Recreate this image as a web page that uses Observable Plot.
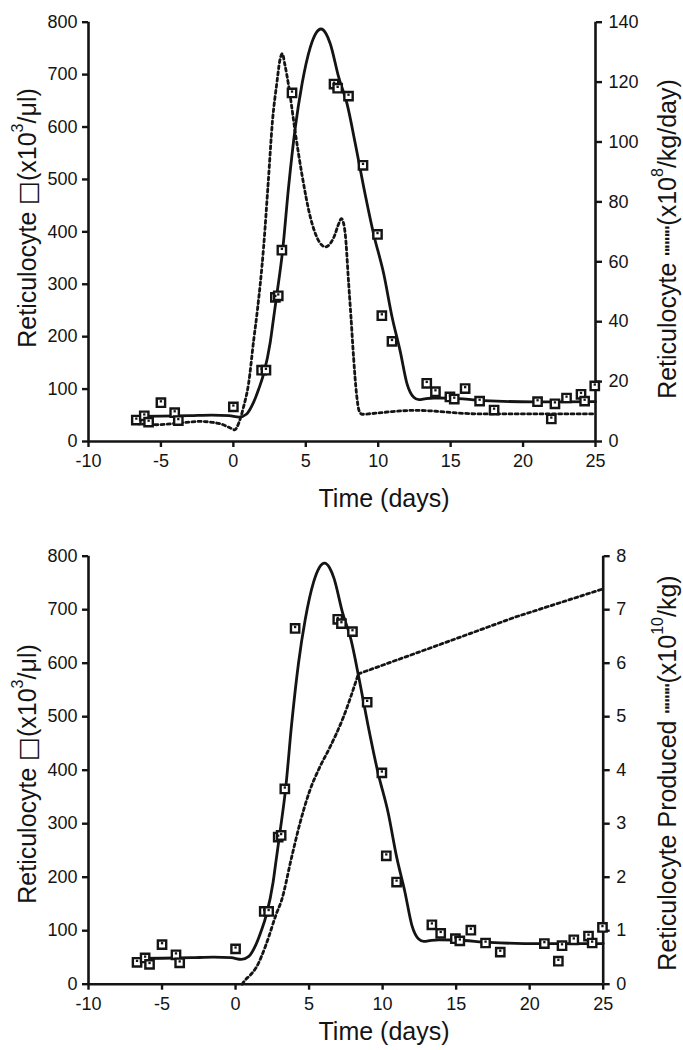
<!DOCTYPE html>
<html><head><meta charset="utf-8">
<script src="https://cdn.jsdelivr.net/npm/d3@7"></script>
<script src="https://cdn.jsdelivr.net/npm/@observablehq/plot@0.6"></script>
<style>
body{margin:0;background:#fff;font-family:"Liberation Sans",Arial,sans-serif;}
#chart{width:683px;}
svg{display:block;}
</style></head><body><div id="chart"></div>
<script>
// ---- data ----
const xTicks = [-10, -5, 0, 5, 10, 15, 20, 25];
const leftTicks = [0, 100, 200, 300, 400, 500, 600, 700, 800];
const rightTicksTop = [0, 20, 40, 60, 80, 100, 120, 140];
const rightTicksBottom = [0, 1, 2, 3, 4, 5, 6, 7, 8];

// observed reticulocyte counts (x10^3/µl)
const obsDay = [-6.7, -6.15, -5.85, -5.0, -4.05, -3.8, 0.0, 1.95, 2.25, 2.9, 3.1, 3.35, 4.05, 6.95, 7.2, 7.95, 8.95, 9.95, 10.25, 10.95, 13.35, 13.95, 14.95, 15.25, 16.0, 17.0, 18.0, 21.0, 21.95, 22.2, 23.0, 24.0, 24.25, 24.95];
const obsValue = [41, 49, 37, 74, 55, 40, 66, 136, 136, 275, 278, 365, 665, 682, 674, 659, 527, 395, 240, 191, 111, 95, 85, 81, 101, 77, 60, 76, 43, 72, 83, 90, 77, 106];

// model fit (solid line)
const fitDay = [-6.7, -5.0, -3.0, -1.5, -0.3, 0.4, 0.9, 1.4, 1.75, 2.09, 2.55, 2.75, 3.01, 3.4, 3.81, 4.28, 4.74, 5.31, 5.7, 6.05, 6.4, 6.69, 7.27, 7.85, 8.42, 9.0, 9.68, 10.38, 10.96, 11.52, 11.99, 12.45, 12.8, 13.3, 13.83, 14.98, 17.28, 20.74, 25];
const fitValue = [48, 48.5, 49.5, 50.5, 49.5, 46.5, 52, 75, 100, 129, 190, 230, 282, 364, 485, 600, 682, 752, 779, 787, 778, 759, 695, 644, 568, 485, 396, 320, 237, 172, 110, 84.5, 80, 82, 83, 82.6, 78, 75.7, 76];

// production rate (x10^8/kg/day) — top dotted line
const rateDay = [-6.7, -5.3, -3.7, -2.3, -0.9, -0.25, 0.08, 0.4, 0.7, 1.05, 1.4, 1.63, 2.09, 2.4, 2.7, 3.01, 3.2, 3.38, 3.55, 3.81, 4.28, 4.74, 5.31, 5.89, 6.35, 6.92, 7.3, 7.45, 7.6, 7.73, 7.96, 8.12, 8.3, 8.5, 8.7, 8.9, 9.5, 11, 12.5, 14, 15.5, 17.3, 25];
const rateValue = [6.0, 5.6, 6.2, 6.7, 5.9, 4.6, 3.9, 6.5, 11.5, 19.3, 33.7, 42.6, 65, 86, 107, 120, 127, 129.5, 126, 119, 103, 89, 75, 67, 65, 68, 73, 74.4, 73, 69, 52.7, 41.5, 28, 16, 10, 9.1, 9.3, 10, 10.4, 10.1, 9.5, 9.2, 9.2];

// cumulative produced (x10^10/kg) — bottom dotted line
const cumDay = [0.45, 0.63, 1.0, 1.42, 2.1, 2.78, 3.12, 3.81, 4.37, 5.05, 5.73, 6.42, 7.33, 8.35, 13.2, 19.0, 25];
const cumValue = [0, 0.07, 0.17, 0.32, 0.76, 1.32, 1.56, 2.37, 3.0, 3.62, 4.06, 4.43, 4.99, 5.8, 6.28, 6.86, 7.39];
const cumKinkDay = 8.35;

const obs = obsDay.map((d, i) => ({day: d, value: obsValue[i]}));
const fit = fitDay.map((d, i) => ({day: d, value: fitValue[i]}));
const rate = rateDay.map((d, i) => ({day: d, value: rateValue[i]}));
const cum = cumDay.map((d, i) => ({day: d, value: cumValue[i]}));

const INK = "#141414";
const FONT = "'Liberation Sans', Arial, sans-serif";

function panel(opts) {
  const k = 800 / opts.rightMax;
  const dotted = {stroke: INK, strokeWidth: 2.8, strokeDasharray: "3,3.2"};
  const dottedMarks = opts.kink == null
    ? [Plot.line(opts.dotted, {x: "day", y: d => d.value * k, curve: "monotone-x", ...dotted})]
    : [
        Plot.line(opts.dotted.filter(d => d.day <= opts.kink), {x: "day", y: d => d.value * k, curve: "monotone-x", ...dotted}),
        Plot.line(opts.dotted.filter(d => d.day >= opts.kink), {x: "day", y: d => d.value * k, curve: "linear", ...dotted})
      ];
  const svg = Plot.plot({
    width: 683,
    height: opts.height,
    marginTop: opts.mt,
    marginBottom: opts.mb,
    marginLeft: 88,
    marginRight: opts.mr,
    style: {fontFamily: FONT, fontSize: "18px", color: INK, background: "#fff", overflow: "visible"},
    x: {domain: [-10, 25]},
    y: {domain: [0, 800]},
    marks: [
      Plot.axisX(xTicks, {tickSize: 6, tickPadding: 7, strokeWidth: 2.4, label: null, fontSize: 18, tickFormat: d => String(d)}),
      Plot.axisY(leftTicks, {tickSize: 6, tickPadding: 5, strokeWidth: 2.4, label: null, fontSize: 18}),
      Plot.axisY(opts.rightTicks.map(v => v * k), {anchor: "right", tickSize: 6, tickPadding: 7, strokeWidth: 2.4, label: null, fontSize: 18, tickFormat: d => String(Math.round(d / k))}),
      Plot.ruleY([0], {stroke: INK, strokeWidth: 2.6}),
      Plot.ruleX([-10], {stroke: INK, strokeWidth: 2.6}),
      Plot.ruleX([25], {stroke: INK, strokeWidth: 2.6}),
      ...dottedMarks,
      Plot.line(fit, {x: "day", y: "value", curve: "monotone-x", stroke: INK, strokeWidth: 2.8}),
      Plot.dot(obs, {x: "day", y: "value", symbol: "square", r: 4.7, fill: "#fff", stroke: INK, strokeWidth: 2.4}),
      Plot.dot(obs, {x: "day", y: "value", symbol: "square", r: 1.3, fill: INK, dy: -1.4})
    ]
  });
  const s = d3.select(svg);
  const addTitle = (x, y, parts, rotate) => {
    const t = s.append("text")
      .attr("transform", `translate(${x},${y})` + (rotate ? " rotate(-90)" : ""))
      .attr("text-anchor", "middle")
      .attr("dominant-baseline", "central")
      .attr("font-family", FONT)
      .attr("font-size", 25)
      .attr("fill", INK);
    parts.forEach(p => {
      const ts = t.append("tspan").text(p.t);
      if (p.sup) ts.attr("font-size", 16).attr("dy", -10);
      if (p.after) ts.attr("dy", 10);
      if (p.font) ts.attr("font-family", p.font);
    });
  };
  addTitle(384, opts.timeY, [{t: "Time (days)"}], false);
  addTitle(27, opts.leftY, [{t: "Reticulocyte "}, {t: "\u25A1", font: "DejaVu Sans"}, {t: "(x10"}, {t: "3", sup: true}, {t: "/\u03BCl)", after: true}], true);
  addTitle(667, opts.rightY, opts.rightTitle, true);
  return svg;
}

const topPanel = panel({
  height: 515, mt: 21.7, mb: 74, mr: 88,
  rightMax: 140, rightTicks: rightTicksTop, dotted: rate, kink: null,
  timeY: 498, leftY: 218, rightY: 239,
  rightTitle: [{t: "Reticulocyte "}, {t: "\u2509\u2509", font: "DejaVu Sans"}, {t: "(x10"}, {t: "8", sup: true}, {t: "/kg/day)", after: true}]
});
const bottomPanel = panel({
  height: 535, mt: 40.7, mb: 66.3, mr: 80.3,
  rightMax: 8, rightTicks: rightTicksBottom, dotted: cum, kink: cumKinkDay,
  timeY: 516, leftY: 259, rightY: 258,
  rightTitle: [{t: "Reticulocyte Produced "}, {t: "\u2509\u2509", font: "DejaVu Sans"}, {t: "(x10"}, {t: "10", sup: true}, {t: "/kg)", after: true}]
});
document.getElementById("chart").append(topPanel, bottomPanel);
</script>
</body></html>
